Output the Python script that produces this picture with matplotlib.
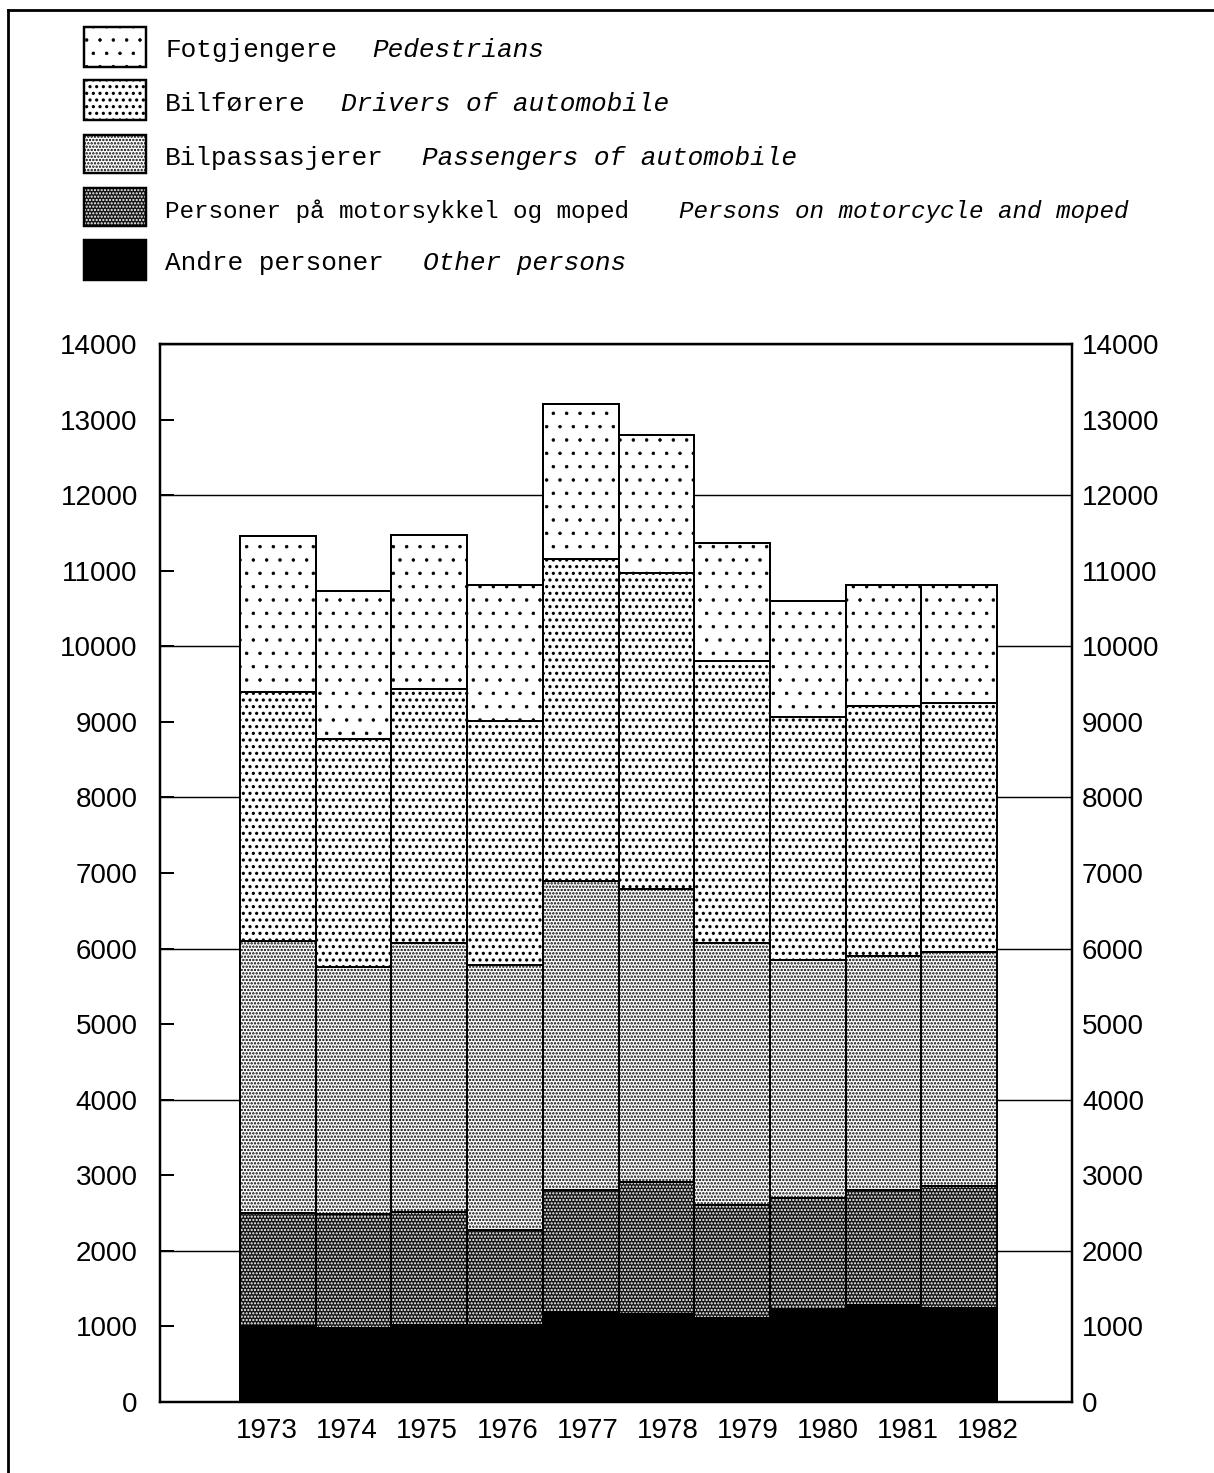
import matplotlib
matplotlib.use('Agg')
import matplotlib.pyplot as plt
from matplotlib.patches import Rectangle
from matplotlib.lines import Line2D
import numpy as np

# ---------------- data ----------------
years = ['1973', '1974', '1975', '1976', '1977', '1978', '1979', '1980', '1981', '1982']
other = [1000, 985, 1020, 1020, 1190, 1160, 1115, 1230, 1280, 1240]
moto = [1500, 1505, 1500, 1260, 1620, 1755, 1490, 1475, 1530, 1620]
passengers = [3600, 3260, 3550, 3500, 4080, 3875, 3465, 3145, 3095, 3095]
drivers = [3300, 3025, 3365, 3235, 4265, 4175, 3730, 3210, 3300, 3290]
pedestrians = [2065, 1960, 2035, 1790, 2055, 1825, 1565, 1545, 1600, 1560]

yticks = list(range(0, 14001, 1000))
ytick_labels = [str(v) for v in yticks]

legend_no = ['Fotgjengere', 'Bilførere', 'Bilpassasjerer',
             'Personer på motorsykkel og moped', 'Andre personer']
legend_en = ['Pedestrians', 'Drivers of automobile', 'Passengers of automobile',
             'Persons on motorcycle and moped', 'Other persons']

# ---------------- style ----------------
DPI = 80
W, H = 1214, 1473
plt.rcParams['hatch.linewidth'] = 1.5
fig = plt.figure(figsize=(W / DPI, H / DPI), dpi=DPI)
fig.patch.set_facecolor('white')

def fx(x):
    return x / W

def fy(y):
    return 1 - y / H

# styles per layer (bottom to top): face, hatch, hatch colour, hatch linewidth
layers = [
    (other, 'black', None, 'black', 1.0),
    (moto, '#151515', '....', 'white', 1.3),
    (passengers, 'white', '....', 'black', 1.45),
    (drivers, 'white', '..', 'black', 1.7),
    (pedestrians, 'white', '.', 'black', 0.7),
]

def set_hlw(artist, lw):
    if hasattr(artist, 'set_hatch_linewidth'):
        try:
            artist.set_hatch_linewidth(lw)
        except Exception:
            pass

ax_l, ax_r, ax_t, ax_b = 160, 1072, 344, 1402
ax = fig.add_axes([fx(ax_l), fy(ax_b), (ax_r - ax_l) / W, (ax_b - ax_t) / H])

x = np.arange(len(years))
bottom = np.zeros(len(years))
for vals, face, hatch, hcol, hlw in layers:
    vals = np.array(vals, dtype=float)
    bars = ax.bar(x, vals, bottom=bottom, width=1.0, color=face, hatch=hatch,
                  edgecolor=hcol, linewidth=0, zorder=2)
    for b in bars:
        set_hlw(b, hlw)
    ax.bar(x, vals, bottom=bottom, width=1.0, fill=False,
           edgecolor='black', linewidth=1.8, zorder=3)
    bottom = bottom + vals

# horizontal lines at even thousands
for v in yticks[2::2]:
    ax.axhline(v, color='black', linewidth=1.3, zorder=1)

unit = (997 - 240) / 10.0
ax.set_xlim(-0.5 - (240 - ax_l) / unit, 9.5 + (ax_r - 997) / unit)
ax.set_ylim(0, 14000)

for s in ax.spines.values():
    s.set_linewidth(2.2)
    s.set_color('black')

tick_font = dict(family='Liberation Sans', size=25)
ax.set_yticks(yticks)
ax.set_yticklabels(ytick_labels, **tick_font)
ax.tick_params(axis='y', direction='in', length=12.5, width=1.8,
               left=True, right=True, labelleft=True, labelright=False, pad=20)

ax2 = ax.twinx()
ax2.set_ylim(0, 14000)
ax2.set_yticks(yticks)
ax2.set_yticklabels(ytick_labels, **tick_font)
ax2.tick_params(axis='y', direction='in', length=0, pad=9)
for s in ax2.spines.values():
    s.set_visible(False)

label_pos = -0.143 + 1.058 * x
ax.set_xticks(label_pos)
ax.set_xticklabels(years, **tick_font)
ax.tick_params(axis='x', length=0, pad=14)

# ---------------- legend ----------------
boxes = [(27, 67), (80, 120), (135, 173), (188, 226), (240, 280)]
baselines = [57, 111, 165, 218, 270]
en_x = [372, 341, 422, 679, 423]
row_size = [23.5, 23.5, 23.5, 21.8, 23.5]
mono = 'Liberation Mono'
for i, (face_layer, (y0, y1)) in enumerate(zip(layers[::-1], boxes)):
    _, face, hatch, hcol, hlw = face_layer
    r = Rectangle((fx(84), fy(y1)), (146 - 84) / W, (y1 - y0) / H,
                  transform=fig.transFigure, facecolor=face, hatch=hatch,
                  edgecolor=hcol, linewidth=0)
    set_hlw(r, hlw)
    fig.add_artist(r)
    r2 = Rectangle((fx(84), fy(y1)), (146 - 84) / W, (y1 - y0) / H,
                   transform=fig.transFigure, fill=False,
                   edgecolor='black', linewidth=2.2)
    fig.add_artist(r2)
    fig.text(fx(165), fy(baselines[i]), legend_no[i], family=mono, size=row_size[i],
             va='baseline', ha='left')
    fig.text(fx(en_x[i]), fy(baselines[i]), legend_en[i], family=mono,
             style='italic', size=row_size[i], va='baseline', ha='left')

# page border (left and top)
fig.add_artist(Line2D([fx(8), fx(8)], [fy(10), 0], transform=fig.transFigure,
                      color='black', linewidth=2.5))
fig.add_artist(Line2D([fx(8), 1], [fy(10), fy(10)], transform=fig.transFigure,
                      color='black', linewidth=2.5))

fig.savefig('out.png', dpi=DPI, facecolor='white')
